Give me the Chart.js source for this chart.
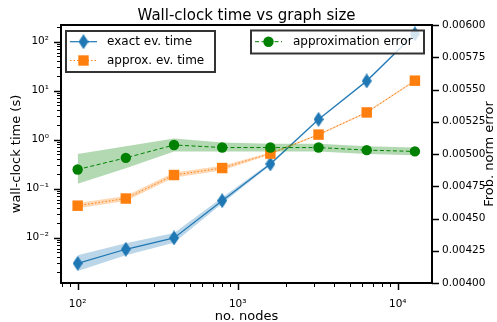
<!DOCTYPE html>
<html>
<head>
<meta charset="utf-8">
<script src="https://cdn.jsdelivr.net/npm/chart.js@4"></script>
<style>
  html, body { margin: 0; padding: 0; background: #fff; }
  #chart { display: block; }
</style>
</head>
<body>
<canvas id="chart" width="497" height="322"></canvas>
<script>
// graph sizes (x axis)
const nodes = [100, 200, 400, 800, 1600, 3200, 6400, 12800];

// wall-clock time, left axis (s)
const exactTime = [0.0030, 0.0058, 0.0099, 0.057, 0.32, 2.6, 15.8, 145];
const exactLow  = [0.0021, 0.0044, 0.0079, 0.050, 0.30, 2.45, 15.0, 138];
const exactHigh = [0.0044, 0.0077, 0.0125, 0.066, 0.34, 2.75, 16.6, 152];

const approxTime = [0.045, 0.063, 0.19, 0.264, 0.52, 1.27, 3.6, 16];
const approxLow  = [0.040, 0.056, 0.17, 0.235, 0.50, 1.22, 3.45, 15.3];
const approxHigh = [0.051, 0.071, 0.215, 0.295, 0.55, 1.32, 3.75, 16.7];

// Frobenius norm error, right axis
const approxError = [0.00488, 0.00497, 0.00507, 0.00505, 0.00505, 0.00505, 0.00503, 0.00502];
const errorLow    = [0.00477, 0.00489, 0.00502, 0.00502, 0.00502, 0.00502, 0.00500, 0.00499];
const errorHigh   = [0.00500, 0.00506, 0.00512, 0.00509, 0.00508, 0.00508, 0.00506, 0.00505];

// tick values / labels
const xMajorTicks = [100, 1000, 10000];
const xTickLabels = ['10²', '10³', '10⁴'];
const yMajorTicks = [0.01, 0.1, 1, 10, 100];
const yTickLabels = ['10⁻²', '10⁻¹', '10⁰', '10¹', '10²'];
const errTicks = [0.004, 0.00425, 0.0045, 0.00475, 0.005, 0.00525, 0.0055, 0.00575, 0.006];

const FONT = 'DejaVu Sans';
const BLUE = '#1f77b4', ORANGE = '#ff7f0e', GREEN = '#008000';

function logTicks(majors, labels, lo, hi) {
  const out = [];
  for (let e = -4; e <= 5; e++) {
    for (let k = 1; k <= 9; k++) {
      const v = k * Math.pow(10, e);
      if (v < lo || v > hi) continue;
      const i = majors.findIndex(m => Math.abs(m - v) / m < 1e-9);
      out.push({ value: v, major: i >= 0, label: i >= 0 ? labels[i] : '' });
    }
  }
  return out;
}

function pts(ys) {
  return nodes.map((n, i) => ({ x: n, y: ys[i] }));
}

// matplotlib-like thin diamond
function thinDiamond(color, w, h) {
  const c = document.createElement('canvas');
  c.width = w; c.height = h;
  const g = c.getContext('2d');
  g.fillStyle = color;
  g.beginPath();
  g.moveTo(w / 2, 0); g.lineTo(w, h / 2); g.lineTo(w / 2, h); g.lineTo(0, h / 2);
  g.closePath();
  g.fill();
  return c;
}
const diamond = thinDiamond(BLUE, 10, 15);

function band(lo, hi, color, axis, order) {
  return [
    { data: pts(lo), yAxisID: axis, borderWidth: 0, pointRadius: 0, fill: false, order },
    { data: pts(hi), yAxisID: axis, borderWidth: 0, pointRadius: 0, fill: '-1', backgroundColor: color, order }
  ];
}

// ticks, spines, titles and the two legend boxes
const decor = {
  id: 'decor',
  afterDraw(chart) {
    const ctx = chart.ctx;
    const a = chart.chartArea;
    ctx.save();
    ctx.strokeStyle = '#000';

    const tickMarks = (scale, side) => {
      scale.ticks.forEach(t => {
        const p = Math.round(scale.getPixelForValue(t.value)) + 0.5;
        const len = t.major ? 7 : 4;
        ctx.lineWidth = t.major ? 1.5 : 1;
        ctx.beginPath();
        if (side === 'bottom') { ctx.moveTo(p, a.bottom); ctx.lineTo(p, a.bottom + len); }
        if (side === 'left') { ctx.moveTo(a.left, p); ctx.lineTo(a.left - len, p); }
        if (side === 'right') { ctx.moveTo(a.right, p); ctx.lineTo(a.right + len, p); }
        ctx.stroke();
      });
    };
    tickMarks(chart.scales.x, 'bottom');
    tickMarks(chart.scales.y, 'left');
    tickMarks(chart.scales.y1, 'right');

    ctx.lineWidth = 2;
    ctx.strokeRect(a.left, a.top, a.right - a.left, a.bottom - a.top);

    ctx.fillStyle = '#000';
    ctx.textAlign = 'center';
    ctx.textBaseline = 'alphabetic';
    ctx.font = '15px "' + FONT + '"';
    ctx.fillText('Wall-clock time vs graph size', (a.left + a.right) / 2, 19.5);
    ctx.font = '13px "' + FONT + '"';
    ctx.fillText('no. nodes', (a.left + a.right) / 2, 320);
    ctx.textBaseline = 'middle';
    ctx.save();
    ctx.translate(16.5, (a.top + a.bottom) / 2);
    ctx.rotate(-Math.PI / 2);
    ctx.fillText('wall-clock time (s)', 0, 0);
    ctx.restore();
    ctx.save();
    ctx.translate(490, (a.top + a.bottom) / 2);
    ctx.rotate(-Math.PI / 2);
    ctx.fillText('Frob. norm error', 0, 0);
    ctx.restore();

    // legends
    const box = (x, y, w, h) => {
      ctx.fillStyle = 'rgba(255,255,255,0.8)';
      ctx.fillRect(x, y, w, h);
      ctx.strokeStyle = '#333';
      ctx.lineWidth = 2;
      ctx.strokeRect(x, y, w, h);
    };
    const handle = (x0, y, color, dash, width) => {
      ctx.strokeStyle = color;
      ctx.lineWidth = width;
      ctx.setLineDash(dash);
      ctx.beginPath(); ctx.moveTo(x0, y); ctx.lineTo(x0 + 27, y); ctx.stroke();
      ctx.setLineDash([]);
    };
    const label = (text, x, y) => {
      ctx.fillStyle = '#000';
      ctx.font = '12px "' + FONT + '"';
      ctx.textAlign = 'left';
      ctx.textBaseline = 'middle';
      ctx.fillText(text, x, y);
    };

    box(66, 31, 149, 41);
    handle(70, 41.7, BLUE, [], 1.2);
    ctx.drawImage(diamond, 83.5 - 5, 41.7 - 7.5);
    label('exact ev. time', 107, 41.7);
    handle(70, 60.5, ORANGE, [1.5, 2], 1);
    ctx.fillStyle = ORANGE;
    ctx.fillRect(83.5 - 5.2, 60.5 - 5.2, 10.4, 10.4);
    label('approx. ev. time', 107, 60.5);

    box(251, 30.5, 173, 23);
    handle(255, 41.7, GREEN, [4, 2.5], 1);
    ctx.fillStyle = GREEN;
    ctx.beginPath(); ctx.arc(268.5, 41.7, 5.2, 0, Math.PI * 2); ctx.fill();
    label('approximation error', 293, 41.7);

    ctx.restore();
  }
};

const tickFont = { family: FONT, size: 10.5 };
const hiddenGrid = { display: true, drawOnChartArea: false, tickColor: 'rgba(0,0,0,0)', tickLength: 7 };

new Chart(document.getElementById('chart'), {
  type: 'line',
  data: {
    datasets: [
      ...band(exactLow, exactHigh, 'rgba(31,119,180,0.3)', 'y', 6),
      { data: pts(exactTime), yAxisID: 'y', borderColor: BLUE, borderWidth: 1.2,
        pointStyle: diamond, pointRadius: 5, order: 5 },
      ...band(approxLow, approxHigh, 'rgba(255,127,14,0.3)', 'y', 4),
      { data: pts(approxTime), yAxisID: 'y', borderColor: ORANGE, borderWidth: 1, borderDash: [1.5, 2],
        pointStyle: 'rect', pointRadius: 7.4, pointBackgroundColor: ORANGE, pointBorderColor: ORANGE,
        pointBorderWidth: 0, order: 3 },
      ...band(errorLow, errorHigh, 'rgba(0,128,0,0.3)', 'y1', 2),
      { data: pts(approxError), yAxisID: 'y1', borderColor: GREEN, borderWidth: 1, borderDash: [4, 2.5],
        pointStyle: 'circle', pointRadius: 5.2, pointBackgroundColor: GREEN, pointBorderColor: GREEN,
        pointBorderWidth: 0, order: 1 }
    ]
  },
  options: {
    responsive: false,
    animation: false,
    events: [],
    devicePixelRatio: 1,
    layout: { padding: { top: 25, left: 0, right: 0, bottom: 0 } },
    elements: { line: { tension: 0 } },
    plugins: { legend: { display: false }, title: { display: false }, tooltip: { enabled: false } },
    scales: {
      x: {
        type: 'logarithmic', position: 'bottom', min: 78.7, max: 16370,
        grid: hiddenGrid, border: { display: false },
        afterBuildTicks: s => { s.ticks = logTicks(xMajorTicks, xTickLabels, 78.7, 16370); },
        afterFit: s => { s.height = 39; },
        ticks: { autoSkip: false, maxRotation: 0, padding: 8, color: '#000', font: tickFont,
          callback: (v, i, t) => t[i].label }
      },
      y: {
        type: 'logarithmic', position: 'left', min: 0.00119, max: 219,
        grid: hiddenGrid, border: { display: false },
        afterBuildTicks: s => { s.ticks = logTicks(yMajorTicks, yTickLabels, 0.00119, 219); },
        afterFit: s => { s.width = 61; },
        ticks: { autoSkip: false, padding: 5, color: '#000', font: tickFont,
          callback: (v, i, t) => t[i].label }
      },
      y1: {
        type: 'linear', position: 'right', min: 0.004, max: 0.006,
        grid: hiddenGrid, border: { display: false },
        afterBuildTicks: s => { s.ticks = errTicks.map(v => ({ value: v, major: true })); },
        afterFit: s => { s.width = 65; },
        ticks: { autoSkip: false, padding: 3, color: '#000', font: tickFont,
          callback: v => v.toFixed(5) }
      }
    }
  },
  plugins: [decor]
});
</script>
</body>
</html>
